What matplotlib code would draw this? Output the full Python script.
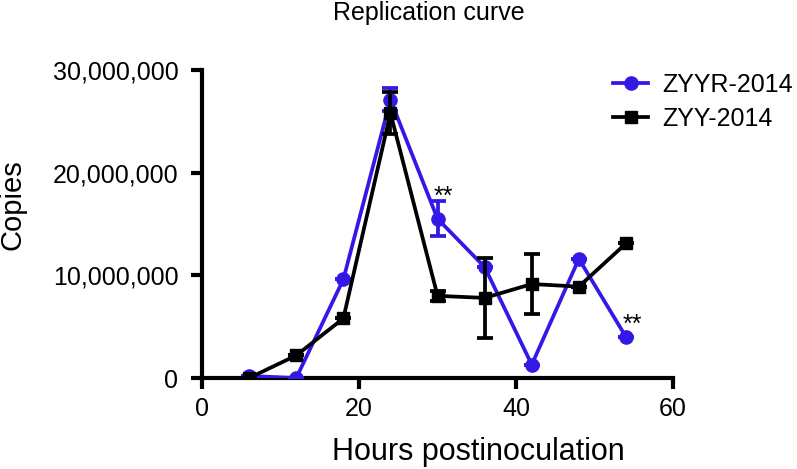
import matplotlib
matplotlib.use("Agg")
import matplotlib.pyplot as plt
from matplotlib.ticker import FuncFormatter

plt.rcParams["font.family"] = ["Liberation Sans", "DejaVu Sans"]

hours = [6, 12, 18, 24, 30, 36, 42, 48, 54]

zyyr = [0.2e6, 0.0, 9.6e6, 27.1e6, 15.5e6, 10.8e6, 1.3e6, 11.6e6, 4.0e6]
zyyr_err = [0, 0, 0, 1.1e6, 1.7e6, 0, 0, 0, 0]

zyy = [0.0, 2.2e6, 5.8e6, 25.8e6, 8.0e6, 7.8e6, 9.15e6, 8.9e6, 13.1e6]
zyy_err = [0, 0, 0, 2.0e6, 0.5e6, 3.9e6, 2.9e6, 0, 0]

blue = "#3319E6"

fig = plt.figure(figsize=(7.97, 4.69), dpi=100)
ax = fig.add_axes([0.2535, 0.194, 0.591, 0.657])

# error bars first, then lines + markers
ax.errorbar(hours, zyyr, yerr=zyyr_err, fmt="none", ecolor=blue,
            capsize=5.5, capthick=2.7, elinewidth=2.7, zorder=3)
ax.errorbar(hours, zyy, yerr=zyy_err, fmt="none", ecolor="black",
            capsize=5.5, capthick=2.7, elinewidth=2.7, zorder=4)
ax.plot(hours, zyyr, color=blue, marker="o", ms=9.5, lw=2.7,
        label="ZYYR-2014", zorder=3)
ax.plot(hours, zyy, color="black", marker="s", ms=9, lw=2.7,
        label="ZYY-2014", zorder=4)

# significance marks
ax.annotate("**", (30, zyyr[4]), xytext=(4.5, 10.5), textcoords="offset points",
            ha="center", va="baseline", fontsize=18)
ax.annotate("**", (54, zyyr[8]), xytext=(4.5, 3.7), textcoords="offset points",
            ha="center", va="baseline", fontsize=18)

ax.set_xlim(0, 60)
ax.set_ylim(0, 30e6)
ax.set_xticks([0, 20, 40, 60])
ax.set_yticks([0, 10e6, 20e6, 30e6])
ax.yaxis.set_major_formatter(FuncFormatter(lambda v, p: f"{int(v):,}"))

for s in ["top", "right"]:
    ax.spines[s].set_visible(False)
for s in ["left", "bottom"]:
    ax.spines[s].set_linewidth(3)
ax.tick_params(width=3, length=8, labelsize=18, direction="out")
ax.tick_params(axis="y", pad=9)
ax.tick_params(axis="x", pad=6)

fig.text(429 / 797, 1 - 20 / 469, "Replication curve", ha="center",
         va="baseline", fontsize=18)
fig.text(478 / 797, 1 - 460 / 469, "Hours postinoculation", ha="center",
         va="baseline", fontsize=22)
fig.text(13 / 797, 1 - 205 / 469, "Copies", ha="center", va="center",
         rotation=90, fontsize=21)

ax.legend(loc="upper left", bbox_to_anchor=(613 / 797, 1 - 73 / 469),
          bbox_transform=fig.transFigure, frameon=False, fontsize=18,
          handlelength=1.4, handletextpad=0.56, labelspacing=0.4,
          borderaxespad=0, borderpad=0)

fig.savefig("out.png", dpi=100)
